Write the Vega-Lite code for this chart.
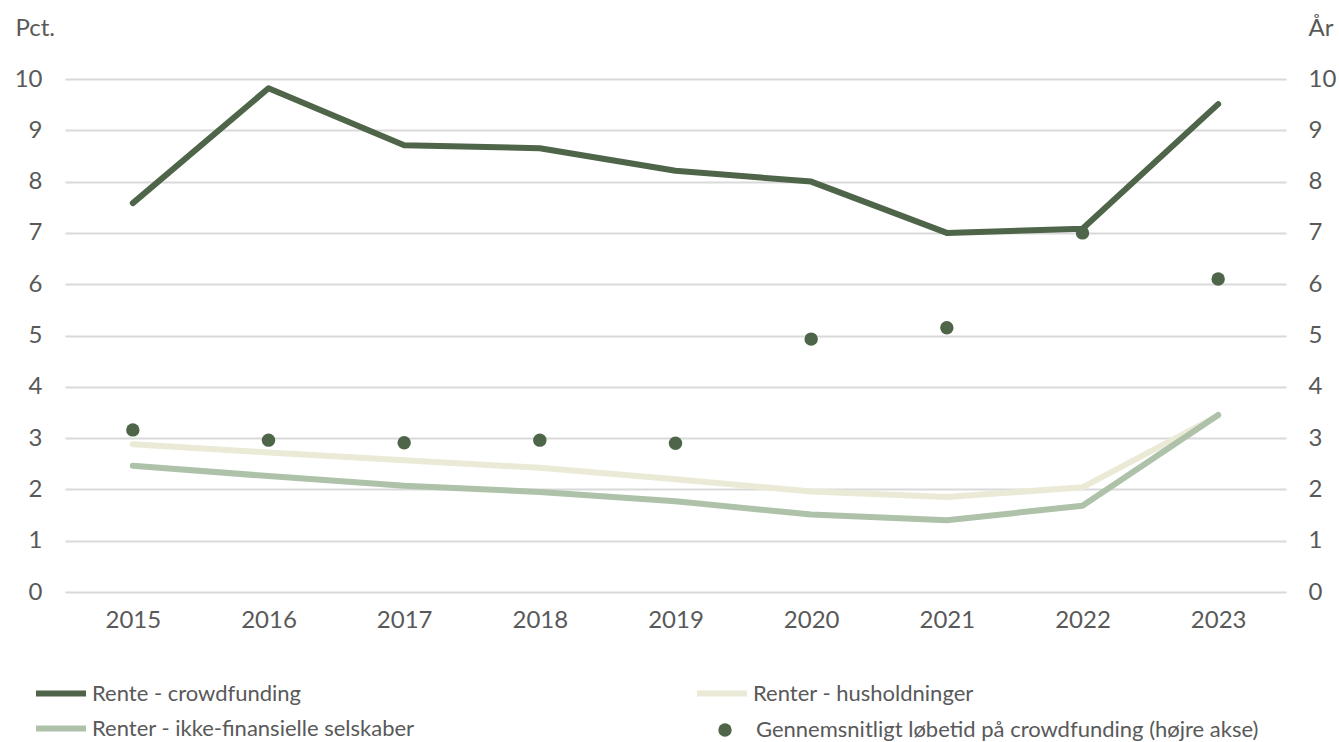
{
  "$schema": "https://vega.github.io/schema/vega-lite/v6.json",
  "width": 1221,
  "height": 513,
  "autosize": {"type": "none"},
  "padding": {"left": 65, "top": 79, "right": 53, "bottom": 150},
  "background": "white",
  "config": {
    "view": {"stroke": null},
    "font": "Lato",
    "axis": {"labelFont": "Lato", "labelFontSize": 24, "labelColor": "#595959", "titleFont": "Lato", "titleFontSize": 24, "titleColor": "#595959", "titleFontWeight": "normal"},
    "legend": {"labelFont": "Lato", "labelFontSize": 22, "labelColor": "#595959", "padding": 0, "labelLimit": 800}
  },
  "datasets": {
    "rates": [
      {"year": "2015", "serie": "Rente - crowdfunding", "value": 7.58},
      {"year": "2016", "serie": "Rente - crowdfunding", "value": 9.82},
      {"year": "2017", "serie": "Rente - crowdfunding", "value": 8.71},
      {"year": "2018", "serie": "Rente - crowdfunding", "value": 8.65},
      {"year": "2019", "serie": "Rente - crowdfunding", "value": 8.21},
      {"year": "2020", "serie": "Rente - crowdfunding", "value": 8.0},
      {"year": "2021", "serie": "Rente - crowdfunding", "value": 7.0},
      {"year": "2022", "serie": "Rente - crowdfunding", "value": 7.08},
      {"year": "2023", "serie": "Rente - crowdfunding", "value": 9.51},
      {"year": "2015", "serie": "Renter - husholdninger", "value": 2.88},
      {"year": "2016", "serie": "Renter - husholdninger", "value": 2.72},
      {"year": "2017", "serie": "Renter - husholdninger", "value": 2.57},
      {"year": "2018", "serie": "Renter - husholdninger", "value": 2.42},
      {"year": "2019", "serie": "Renter - husholdninger", "value": 2.2},
      {"year": "2020", "serie": "Renter - husholdninger", "value": 1.96},
      {"year": "2021", "serie": "Renter - husholdninger", "value": 1.85},
      {"year": "2022", "serie": "Renter - husholdninger", "value": 2.04},
      {"year": "2023", "serie": "Renter - husholdninger", "value": 3.44},
      {"year": "2015", "serie": "Renter - ikke-finansielle selskaber", "value": 2.46},
      {"year": "2016", "serie": "Renter - ikke-finansielle selskaber", "value": 2.26},
      {"year": "2017", "serie": "Renter - ikke-finansielle selskaber", "value": 2.07},
      {"year": "2018", "serie": "Renter - ikke-finansielle selskaber", "value": 1.95},
      {"year": "2019", "serie": "Renter - ikke-finansielle selskaber", "value": 1.77},
      {"year": "2020", "serie": "Renter - ikke-finansielle selskaber", "value": 1.51},
      {"year": "2021", "serie": "Renter - ikke-finansielle selskaber", "value": 1.4},
      {"year": "2022", "serie": "Renter - ikke-finansielle selskaber", "value": 1.68},
      {"year": "2023", "serie": "Renter - ikke-finansielle selskaber", "value": 3.45}
    ],
    "maturity": [
      {"year": "2015", "serie": "Gennemsnitligt løbetid på crowdfunding (højre akse)", "value": 3.16},
      {"year": "2016", "serie": "Gennemsnitligt løbetid på crowdfunding (højre akse)", "value": 2.96},
      {"year": "2017", "serie": "Gennemsnitligt løbetid på crowdfunding (højre akse)", "value": 2.91},
      {"year": "2018", "serie": "Gennemsnitligt løbetid på crowdfunding (højre akse)", "value": 2.96},
      {"year": "2019", "serie": "Gennemsnitligt løbetid på crowdfunding (højre akse)", "value": 2.9},
      {"year": "2020", "serie": "Gennemsnitligt løbetid på crowdfunding (højre akse)", "value": 4.93},
      {"year": "2021", "serie": "Gennemsnitligt løbetid på crowdfunding (højre akse)", "value": 5.15},
      {"year": "2022", "serie": "Gennemsnitligt løbetid på crowdfunding (højre akse)", "value": 7.0},
      {"year": "2023", "serie": "Gennemsnitligt løbetid på crowdfunding (højre akse)", "value": 6.1}
    ]
  },
  "encoding": {
    "x": {
      "field": "year",
      "type": "ordinal",
      "scale": {"type": "point", "padding": 0.5},
      "axis": {"title": null, "labelAngle": 0, "domain": false, "ticks": false, "labelPadding": 16, "grid": false}
    }
  },
  "layer": [
    {
      "data": {"name": "rates"},
      "mark": {"type": "line", "strokeWidth": 6, "strokeCap": "round", "strokeJoin": "round"},
      "encoding": {
        "y": {
          "field": "value",
          "type": "quantitative",
          "scale": {"domain": [0, 10], "nice": false},
          "axis": {"orient": "left", "title": "Pct.", "titleAngle": 0, "titleAlign": "left", "titleBaseline": "middle", "titleX": -50, "titleY": -51, "values": [0, 1, 2, 3, 4, 5, 6, 7, 8, 9, 10], "labelOverlap": false, "domain": false, "ticks": false, "labelPadding": 23, "grid": true, "gridColor": "#d9d9d9", "gridWidth": 2}
        },
        "stroke": {
          "field": "serie",
          "type": "nominal",
          "scale": {"domain": ["Rente - crowdfunding", "Renter - husholdninger", "Renter - ikke-finansielle selskaber"], "range": ["#4e6549", "#ebead6", "#adc2a9"]},
          "legend": {"title": null, "orient": "none", "legendX": -32, "legendY": 597, "direction": "horizontal", "columns": 2, "columnPadding": 279, "rowPadding": 0, "clipHeight": 35, "symbolType": "stroke", "symbolSize": 2500, "symbolStrokeWidth": 6, "labelOffset": 3}
        }
      }
    },
    {
      "data": {"name": "maturity"},
      "mark": {"type": "point", "filled": true, "size": 180, "opacity": 1},
      "encoding": {
        "y": {
          "field": "value",
          "type": "quantitative",
          "scale": {"domain": [0, 10], "nice": false},
          "axis": {"orient": "right", "title": "År", "titleAngle": 0, "titleAlign": "left", "titleBaseline": "middle", "titleX": 22, "titleY": -51, "values": [0, 1, 2, 3, 4, 5, 6, 7, 8, 9, 10], "labelOverlap": false, "domain": false, "ticks": false, "labelPadding": 22, "grid": false}
        },
        "fill": {
          "field": "serie",
          "type": "nominal",
          "scale": {"range": ["#4e6549"]},
          "legend": {"title": null, "orient": "none", "legendX": 649, "legendY": 640, "symbolType": "circle", "symbolSize": 180, "labelOffset": 20}
        }
      }
    }
  ],
  "resolve": {"scale": {"y": "independent"}}
}
